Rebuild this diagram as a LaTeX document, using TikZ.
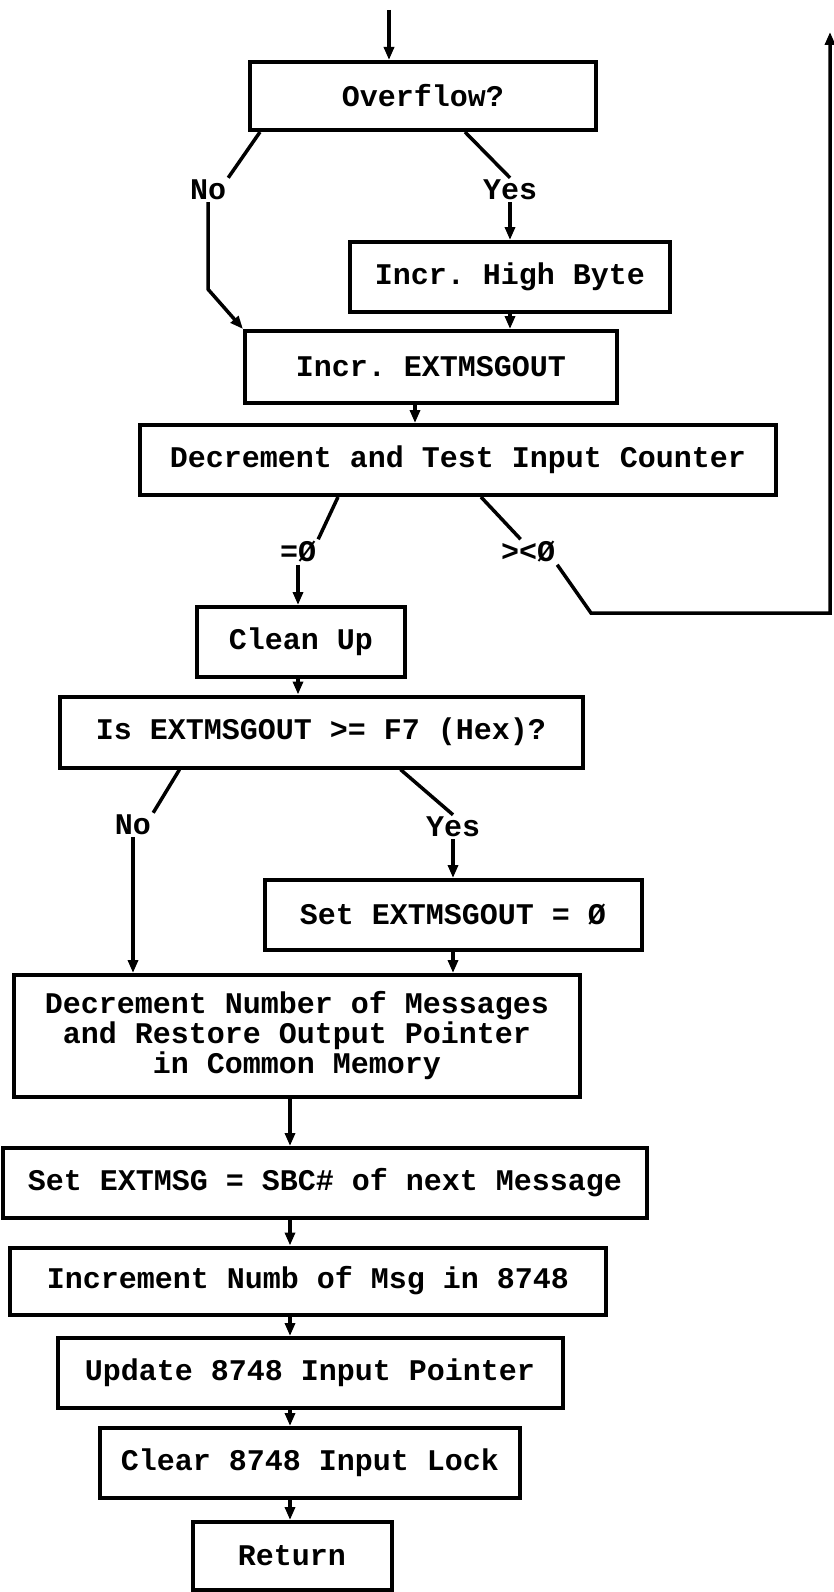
\documentclass[tikz,border=0pt]{standalone}
\usepackage{fontspec}
\setmonofont{Liberation Mono}
\usetikzlibrary{arrows.meta}

\begin{document}
\begin{tikzpicture}[x=1pt,y=-1pt]

\tikzstyle{every node}=[font=\ttfamily\bfseries\fontsize{30}{30}\selectfont];
\tikzstyle{box}=[draw,shape=rectangle,line width=4pt,minimum height=70pt,inner sep=0pt,anchor=center];
\tikzstyle{lbl}=[inner sep=2pt];
\tikzstyle{link}=[line width=3.5pt];
\tikzstyle{arr}=[line width=3.5pt,-{Triangle[length=13pt,width=10pt]}];

\useasboundingbox (0,0) rectangle (833,1592);

% Draw the flowchart boxes
\node[box,minimum width=346pt,minimum height=68pt] (ovf) at (423,96) {Overflow?};
\node[box,minimum width=320pt] (hib) at (510,277) {Incr. High Byte};
\node[box,minimum width=372pt,minimum height=72pt] (incx) at (431,367) {Incr. EXTMSGOUT};
\node[box,minimum width=636pt] (dect) at (458,460) {Decrement and Test Input Counter};
\node[box,minimum width=208pt] (clean) at (301,642) {Clean Up};
\node[box,minimum width=523pt,minimum height=71pt] (isx) at (321,732) {Is EXTMSGOUT >= F7 (Hex)?};
\node[box,minimum width=377pt] (setz) at (453,915) {Set EXTMSGOUT = Ø};
\node[box,minimum width=566pt,minimum height=122pt,align=center] (decn) at (297,1036)
  {Decrement Number of Messages\\and Restore Output Pointer\\in Common Memory};
\node[box,minimum width=644pt] (setm) at (325,1183) {Set EXTMSG = SBC\# of next Message};
\node[box,minimum width=596pt,minimum height=67pt] (incn) at (308,1281) {Increment Numb of Msg in 8748};
\node[box,minimum width=505pt] (upd) at (310,1373) {Update 8748 Input Pointer};
\node[box,minimum width=420pt] (clr) at (310,1463) {Clear 8748 Input Lock};
\node[box,minimum width=199pt,minimum height=68pt] (ret) at (292,1556) {Return};

% Branch labels
\node[lbl] (no1) at (208,190) {No};
\node[lbl] (yes1) at (510,190) {Yes};
\node[lbl] (eq0) at (298,552) {=Ø};
\node[lbl] (ne0) at (528,552) {><Ø};
\node[lbl] (no2) at (133,825) {No};
\node[lbl] (yes2) at (453,827) {Yes};

% Free ends of the connectors
\coordinate (start) at (389,10);
\coordinate (back) at (830,32);
\coordinate (turn) at (591,613);
\coordinate (spine) at (290,0);

% Links from the decisions to their labels
\draw[link] ([xshift=12pt]ovf.south west) -- (no1.north east)
([xshift=217pt]ovf.south west) -- (yes1.north)
([xshift=200pt]dect.south west) -- (eq0.north east)
([xshift=343pt]dect.south west) -- (ne0.120)
([xshift=122pt]isx.south west) -- (no2.north east)
([xshift=343pt]isx.south west) -- (yes2.north);

% Arrows between the boxes
\draw[arr] (start) -- (start |- ovf.north);
\draw[arr] (yes1.south) -- (yes1.south |- hib.north);
\draw[arr] (no1.south) -- ++(0,87) -- (incx.north west);
\draw[arr] (hib.south) -- (hib.south |- incx.north);
\draw[arr] ([xshift=-16pt]incx.south) -- ([xshift=-16pt]incx.south |- dect.north);
\draw[arr] (eq0.south) -- (eq0.south |- clean.north);
\draw[arr] (ne0.south east) -- (turn) -- (turn -| back) -- (back);
\draw[arr] (eq0.south |- clean.south) -- (eq0.south |- isx.north);
\draw[arr] (no2.south) -- (no2.south |- decn.north);
\draw[arr] (yes2.south) -- (yes2.south |- setz.north);
\draw[arr] (yes2.south |- setz.south) -- (yes2.south |- decn.north);
\draw[arr] (spine |- decn.south) -- (spine |- setm.north);
\draw[arr] (spine |- setm.south) -- (spine |- incn.north);
\draw[arr] (spine |- incn.south) -- (spine |- upd.north);
\draw[arr] (spine |- upd.south) -- (spine |- clr.north);
\draw[arr] (spine |- clr.south) -- (spine |- ret.north);

\end{tikzpicture}
\end{document}
